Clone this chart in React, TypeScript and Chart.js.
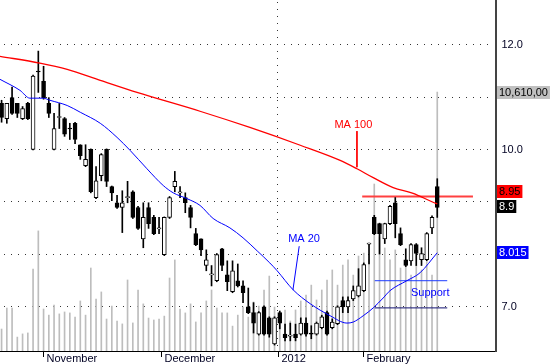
import React, { useEffect, useRef } from 'react';
import { Chart, registerables } from 'chart.js';

Chart.register(...registerables);

// ---- data ----
const OPEN = [10.87, 10.58, 10.98, 10.87, 10.58, 10.87, 9.99, 11.48, 11.29, 10.87, 9.99, 10.60, 10.58, 10.39, 10.49, 10.08, 9.68, 9.99, 9.07, 9.49, 9.99, 9.28, 8.97, 8.88, 9.07, 9.18, 8.88, 8.28, 8.88, 8.69, 8.47, 7.98, 8.69, 9.28, 9.16, 9.07, 8.88, 8.38, 8.28, 7.77, 7.59, 7.48, 8.09, 7.59, 7.27, 7.48, 7.38, 6.98, 6.87, 6.46, 6.98, 6.77, 6.27, 6.87, 6.46, 6.42, 6.46, 6.46, 6.67, 6.47, 6.46, 6.58, 6.87, 6.58, 6.66, 7.10, 6.98, 7.13, 7.19, 7.29, 8.18, 8.69, 8.57, 8.28, 8.57, 8.97, 8.38, 7.88, 7.86, 8.17, 7.88, 7.88, 8.49, 9.28];
const HIGH = [10.93, 10.87, 11.18, 10.87, 10.81, 10.89, 11.41, 11.87, 11.58, 10.98, 10.68, 10.87, 10.60, 10.49, 10.51, 10.08, 10.08, 10.00, 9.66, 9.91, 10.00, 9.29, 9.11, 9.20, 9.38, 9.20, 8.90, 8.97, 8.97, 8.73, 8.69, 8.70, 9.09, 9.57, 9.28, 9.16, 8.92, 8.48, 8.28, 8.07, 7.77, 8.00, 8.10, 7.86, 7.86, 7.80, 7.48, 7.34, 7.06, 6.89, 7.00, 6.79, 6.79, 6.90, 6.65, 6.67, 6.65, 6.77, 6.77, 6.62, 6.69, 6.82, 6.90, 6.75, 7.00, 7.17, 7.17, 7.38, 7.71, 7.82, 8.20, 8.73, 8.58, 8.58, 8.92, 9.07, 8.49, 8.09, 8.19, 8.19, 8.11, 8.40, 8.72, 9.43];
const LOW = [10.51, 10.49, 10.66, 10.60, 10.56, 10.56, 9.98, 11.08, 10.95, 10.60, 9.98, 10.39, 10.24, 10.18, 10.10, 9.80, 9.66, 9.16, 9.05, 9.39, 9.28, 9.01, 8.86, 8.40, 8.97, 8.67, 8.46, 8.11, 8.48, 8.36, 8.38, 7.96, 8.67, 9.18, 9.07, 8.78, 8.49, 8.15, 7.96, 7.67, 7.38, 7.46, 7.67, 7.29, 7.25, 7.36, 7.06, 6.85, 6.48, 6.44, 6.44, 6.40, 6.25, 6.56, 6.33, 6.33, 6.33, 6.44, 6.42, 6.37, 6.44, 6.56, 6.44, 6.56, 6.64, 6.87, 6.87, 7.10, 7.17, 7.27, 7.80, 8.36, 7.99, 8.19, 8.55, 8.30, 8.15, 7.75, 7.77, 7.77, 7.77, 7.86, 8.38, 8.69];
const CLOSE = [10.60, 10.87, 10.68, 10.68, 10.77, 10.58, 11.39, 11.47, 10.98, 10.68, 10.39, 10.61, 10.28, 10.38, 10.18, 9.87, 9.80, 9.18, 9.39, 9.89, 9.38, 9.16, 8.88, 8.97, 9.08, 8.69, 8.48, 8.69, 8.57, 8.38, 8.48, 8.69, 9.07, 9.38, 9.17, 8.97, 8.69, 8.17, 8.07, 7.88, 7.60, 7.98, 7.77, 7.46, 7.67, 7.38, 7.25, 6.87, 6.67, 6.87, 6.46, 6.46, 6.77, 6.67, 6.39, 6.43, 6.39, 6.67, 6.46, 6.46, 6.67, 6.79, 6.46, 6.69, 6.98, 6.98, 7.10, 7.29, 7.38, 7.79, 8.19, 8.38, 8.38, 8.57, 8.90, 8.57, 8.17, 7.77, 8.17, 8.00, 8.00, 8.38, 8.69, 8.88];
const VOLUME = [900, 1760, 1760, 570, 700, 740, 3360, 4920, 1720, 1470, 1880, 1520, 1600, 1560, 1390, 2050, 1470, 3400, 2130, 2420, 1310, 1840, 1230, 1110, 2910, 1150, 2500, 1930, 1350, 1270, 1310, 1430, 2990, 3730, 1720, 1560, 1930, 1190, 1560, 2050, 2500, 1760, 1560, 1560, 1020, 1470, 1800, 1390, 2010, 1840, 2500, 3070, 1800, 1350, 1680, 1230, 1680, 2050, 2290, 2700, 2090, 2500, 2910, 3320, 2700, 3520, 3730, 3110, 3890, 4010, 3730, 6840, 4670, 4220, 3730, 4140, 3400, 3650, 3110, 3520, 3320, 3650, 3110, 10610];

const MA100_X = [-0.3, 7.3, 12.5, 18.8, 25.8, 37.8, 47.3, 56.9, 64.5, 67.7, 70.8, 74.6, 78.4, 82.2, 83];
const MA100_Y = [11.77, 11.64, 11.52, 11.31, 11.08, 10.72, 10.41, 10.07, 9.78, 9.62, 9.45, 9.26, 9.15, 8.98, 8.95];
const MA20_X = [-0.3, 3.5, 5.4, 7.9, 9.2, 12.5, 15.0, 18.8, 22.0, 24.5, 27.7, 30.8, 32.7, 35.3, 37.8, 40.3, 43.5, 46.0, 48.7, 51.1, 52.5, 55.5, 58.8, 62.6, 65.8, 67.0, 68.9, 70.8, 72.7, 74.0, 77.2, 79.7, 83];
const MA20_Y = [11.33, 11.12, 10.97, 10.97, 10.93, 10.83, 10.70, 10.49, 10.22, 9.97, 9.62, 9.30, 9.16, 9.05, 8.92, 8.67, 8.49, 8.30, 8.05, 7.82, 7.67, 7.31, 7.04, 6.81, 6.67, 6.69, 6.81, 6.96, 7.15, 7.29, 7.48, 7.63, 8.015];

const MONTH_TICKS = [7.95, 30.4, 52.6, 68.8];
const MONTH_LABELS = ['November', 'December', '2012', 'February'];
const YEAR_LINE = 52.6;
const PRICE_TICKS = [7, 8, 9, 10, 11, 12];
const PRICE_LABEL_TICKS = [7, 10, 12];
const PRICE_TICK_LABELS = ['7.0', '10.0', '12.0'];

const LEVEL_PRICES = [9.09, 7.48, 6.96];
const LEVEL_FROM = [68.7, 71.1, 71.1];
const LEVEL_TO = [89.8, 84.9, 84.9];

const NOTE_TEXTS = ['MA 100', 'MA 20', 'Support'];
const NOTE_X = [63.4, 54.6, 78.0];
const NOTE_Y = [10.45, 8.28, 7.25];
const LINK_X1 = [67.7, 56.7];
const LINK_Y1 = [10.34, 8.14];
const LINK_X2 = [67.7, 55.5];
const LINK_Y2 = [9.65, 7.30];

const LAST_VOLUME = 10610;
const LAST_VOLUME_TEXT = '10,610,00';
const LAST_CLOSE = 8.9;
const LAST_MA100 = 8.95;
const LAST_MA20 = 8.015;

const FONT = '11px "Liberation Sans", Arial, sans-serif';

const overlay = {
  id: 'overlay',
  beforeDatasetsDraw(chart: any) {
    const ctx = chart.ctx;
    const xs = chart.scales.x;
    const ys = chart.scales.y;
    ctx.save();
    ctx.strokeStyle = '#333333';
    ctx.lineWidth = 1;
    ctx.setLineDash([1, 6]);
    PRICE_TICKS.forEach((v) => {
      const y = Math.round(ys.getPixelForValue(v)) + 0.5;
      ctx.beginPath();
      ctx.moveTo(4, y);
      ctx.lineTo(494, y);
      ctx.stroke();
    });
    const vx = Math.round(xs.getPixelForValue(YEAR_LINE)) - 0.5;
    ctx.beginPath();
    ctx.moveTo(vx, 2);
    ctx.lineTo(vx, chart.chartArea.bottom);
    ctx.stroke();
    ctx.restore();
  },
  afterDatasetsDraw(chart: any) {
    const ctx = chart.ctx;
    const xs = chart.scales.x;
    const ys = chart.scales.y;
    const yv = chart.scales.yv;
    const area = chart.chartArea;
    ctx.save();
    // axes
    ctx.fillStyle = '#000000';
    ctx.fillRect(0, area.bottom, area.right, 1);
    ctx.fillStyle = '#444444';
    ctx.fillRect(area.right - 1, 0, 2, area.bottom + 1);
    // month ticks & labels
    ctx.font = FONT;
    ctx.textBaseline = 'middle';
    ctx.textAlign = 'left';
    MONTH_TICKS.forEach((t, k) => {
      const x = Math.round(xs.getPixelForValue(t));
      ctx.fillStyle = '#000000';
      ctx.fillRect(x, area.bottom, 1, 6);
      ctx.fillStyle = '#000022';
      ctx.fillText(MONTH_LABELS[k], x + 3.5, area.bottom + 8);
    });
    // price labels
    PRICE_LABEL_TICKS.forEach((v, k) => {
      ctx.fillStyle = '#000022';
      ctx.fillText(PRICE_TICK_LABELS[k], 501.5, ys.getPixelForValue(v) + 1);
    });
    // notes
    const noteColors = ['#ff0000', '#0000ff', '#0000ff'];
    NOTE_TEXTS.forEach((t, k) => {
      ctx.fillStyle = noteColors[k];
      ctx.fillText(t, xs.getPixelForValue(NOTE_X[k]), ys.getPixelForValue(NOTE_Y[k]));
    });
    // value boxes
    const box = (text: string, cy: number, bg: string, fg: string) => {
      const w = ctx.measureText(text).width + 4;
      ctx.fillStyle = bg;
      ctx.fillRect(497, Math.round(cy - 6.5), w, 13);
      ctx.fillStyle = fg;
      ctx.fillText(text, 499, Math.round(cy - 6.5) + 7);
    };
    box(LAST_VOLUME_TEXT, yv.getPixelForValue(LAST_VOLUME), '#c0c0c0', '#000000');
    const yClose = ys.getPixelForValue(LAST_CLOSE);
    const yRed = Math.min(ys.getPixelForValue(LAST_MA100), yClose - 14.5);
    box(LAST_MA100.toFixed(2), yRed, '#ff0000', '#000000');
    box(String(LAST_CLOSE), yClose, '#000000', '#ffffff');
    box(String(LAST_MA20), ys.getPixelForValue(LAST_MA20), '#0000ff', '#ffffff');
    ctx.restore();
  },
};

export default function App() {
  const ref = useRef<HTMLCanvasElement | null>(null);
  useEffect(() => {
    if (!ref.current) return;
    const idx = OPEN.map((_, i) => i);
    const datasets: any[] = [
      {
        type: 'bar',
        label: 'volume',
        yAxisID: 'yv',
        data: idx.map((i) => ({ x: i, y: VOLUME[i] })),
        backgroundColor: '#bdbdbd',
        barThickness: 1,
        grouped: false,
        order: 10,
      },
      {
        type: 'bar',
        label: 'wick',
        yAxisID: 'y',
        data: idx.map((i) => ({ x: i, y: [LOW[i], HIGH[i]] })),
        backgroundColor: '#000000',
        barThickness: 1,
        grouped: false,
        order: 5,
      },
      {
        type: 'bar',
        label: 'body',
        yAxisID: 'y',
        data: idx.map((i) => ({ x: i, y: [OPEN[i], CLOSE[i]] })),
        backgroundColor: idx.map((i) => (CLOSE[i] < OPEN[i] ? '#000000' : '#ffffff')),
        borderColor: '#000000',
        borderWidth: 1,
        borderSkipped: false,
        minBarLength: 1,
        barThickness: 4,
        grouped: false,
        order: 4,
      },
      {
        type: 'line',
        label: 'MA 100',
        yAxisID: 'y',
        data: MA100_X.map((x, k) => ({ x, y: MA100_Y[k] })),
        borderColor: '#ff0000',
        borderWidth: 1.3,
        pointRadius: 0,
        cubicInterpolationMode: 'monotone',
        order: 2,
      },
      {
        type: 'line',
        label: 'MA 20',
        yAxisID: 'y',
        data: MA20_X.map((x, k) => ({ x, y: MA20_Y[k] })),
        borderColor: '#0000ff',
        borderWidth: 1,
        pointRadius: 0,
        cubicInterpolationMode: 'monotone',
        order: 2,
      },
    ];
    const levelColors = ['#ff4040', '#1e3cff', '#101070'];
    const levelWidths = [2, 1, 1];
    LEVEL_PRICES.forEach((p, k) => {
      datasets.push({
        type: 'line',
        label: 'level' + k,
        yAxisID: 'y',
        data: [{ x: LEVEL_FROM[k], y: p }, { x: LEVEL_TO[k], y: p }],
        borderColor: levelColors[k],
        borderWidth: levelWidths[k],
        pointRadius: 0,
        order: k === 0 ? 6 : 3,
        clip: false,
      });
    });
    const linkColors = ['#ff0000', '#0000ff'];
    LINK_X1.forEach((x1, k) => {
      datasets.push({
        type: 'line',
        label: 'link' + k,
        yAxisID: 'y',
        data: [{ x: x1, y: LINK_Y1[k] }, { x: LINK_X2[k], y: LINK_Y2[k] }],
        borderColor: linkColors[k],
        borderWidth: 1,
        pointRadius: 0,
        order: 1,
      });
    });
    const chart = new Chart(ref.current, {
      type: 'bar',
      data: { datasets },
      options: {
        responsive: false,
        animation: false,
        devicePixelRatio: 1,
        layout: { padding: { left: 0, right: 54, top: 0, bottom: 13 } },
        plugins: { legend: { display: false }, tooltip: { enabled: false } },
        scales: {
          x: { type: 'linear', min: -0.3, max: 94.19, offset: false, display: false },
          y: { type: 'linear', min: 6.136, max: 12.847, display: false },
          yv: { type: 'linear', min: 0, max: 14379, display: false },
        },
      },
      plugins: [overlay],
    } as any);
    return () => chart.destroy();
  }, []);
  return (
    <div style={{ position: 'fixed', left: 0, top: 0, width: 550, height: 364, background: '#ffffff' }}>
      <canvas ref={ref} width={550} height={364} style={{ display: 'block' }} />
    </div>
  );
}
